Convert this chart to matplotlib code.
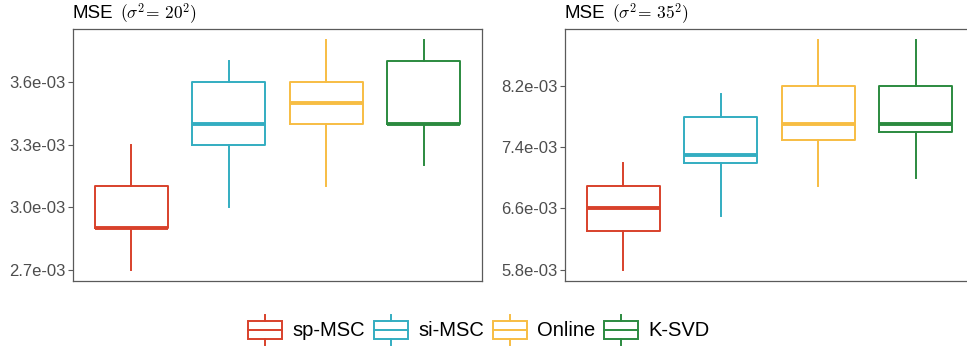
import matplotlib
matplotlib.use("Agg")
import matplotlib.pyplot as plt
from matplotlib.patches import Rectangle
from matplotlib.lines import Line2D
from matplotlib.legend_handler import HandlerBase

plt.rcParams['font.family'] = ['Liberation Sans', 'DejaVu Sans']
plt.rcParams['mathtext.fontset'] = 'cm'

methods = ["sp-MSC", "si-MSC", "Online", "K-SVD"]
colors = ["#D8412B", "#33ADC1", "#F7BD43", "#2B8A3F"]

# panel 1 (sigma^2 = 20^2), values in units of 1e-3
p1_low = [2.7, 3.0, 3.1, 3.2]
p1_q1 = [2.9, 3.3, 3.4, 3.4]
p1_med = [2.9, 3.4, 3.5, 3.4]
p1_q3 = [3.1, 3.6, 3.6, 3.7]
p1_high = [3.3, 3.7, 3.8, 3.8]
p1_ticks = [2.7, 3.0, 3.3, 3.6]

# panel 2 (sigma^2 = 35^2)
p2_low = [5.8, 6.5, 6.9, 7.0]
p2_q1 = [6.3, 7.2, 7.5, 7.6]
p2_med = [6.6, 7.3, 7.7, 7.7]
p2_q3 = [6.9, 7.8, 8.2, 8.2]
p2_high = [7.2, 8.1, 8.8, 8.8]
p2_ticks = [5.8, 6.6, 7.4, 8.2]

title_main = "MSE"
title_math = [r"$(\sigma^2\!=\,20^2)$", r"$(\sigma^2\!=\,35^2)$"]

W, H = 967, 354
fig = plt.figure(figsize=(W / 100, H / 100), dpi=100)

def px_axes(x0, y0, x1, y1):
    return fig.add_axes([x0 / W, (H - y1) / H, (x1 - x0) / W, (y1 - y0) / H])

ax1 = px_axes(73, 29, 482, 281)
ax2 = px_axes(565, 29, 974, 281)

FRAME = "#5a5a5a"
LW = 1.4

def draw(ax, low, q1, med, q3, high, ticks, math):
    stats = []
    for i in range(len(methods)):
        stats.append(dict(whislo=low[i] * 1e-3, q1=q1[i] * 1e-3, med=med[i] * 1e-3,
                          q3=q3[i] * 1e-3, whishi=high[i] * 1e-3, fliers=[], label=methods[i]))
    for i, st in enumerate(stats):
        c = colors[i]
        ax.bxp([st], positions=[i + 1], widths=0.75, showfliers=False, showcaps=False,
               patch_artist=False,
               boxprops=dict(color=c, linewidth=LW),
               whiskerprops=dict(color=c, linewidth=LW),
               medianprops=dict(color=c, linewidth=2.8, solid_capstyle='butt'),
               manage_ticks=False)
    lo = min(low) * 1e-3
    hi = max(high) * 1e-3
    pad = (hi - lo) * 0.05
    ax.set_ylim(lo - pad, hi + pad)
    ax.set_xlim(0.4, 4.6)
    ax.set_xticks([])
    ax.set_yticks([t * 1e-3 for t in ticks])
    ax.set_yticklabels([f"{t:.1f}e-03" for t in ticks])
    ax.tick_params(axis='y', colors=FRAME, labelcolor="#4D4D4D", labelsize=12,
                   length=3.5, width=0.8, pad=2)
    for s in ax.spines.values():
        s.set_color(FRAME)
        s.set_linewidth(0.9)
    yb = 1.0 + 10.5 / 252
    ax.text(0.0, yb, title_main, transform=ax.transAxes, ha='left', va='baseline',
            fontsize=13.5, color='black')
    ax.text(47 / 409, yb, math, transform=ax.transAxes, ha='left', va='baseline',
            fontsize=12.5, color='black')

draw(ax1, p1_low, p1_q1, p1_med, p1_q3, p1_high, p1_ticks, title_math[0])
draw(ax2, p2_low, p2_q1, p2_med, p2_q3, p2_high, p2_ticks, title_math[1])


class BoxHandler(HandlerBase):
    def create_artists(self, legend, orig_handle, xdescent, ydescent, width, height,
                       fontsize, trans):
        c = orig_handle.get_color()
        x0, y0 = -xdescent, -ydescent
        bh = height * 23 / 39
        by = y0 + (height - bh) / 2
        rect = Rectangle((x0, by), width, bh, fill=False, edgecolor=c,
                         linewidth=LW, transform=trans)
        mid = Line2D([x0, x0 + width], [y0 + height / 2] * 2, color=c, lw=LW, transform=trans)
        w1 = Line2D([x0 + width / 2] * 2, [by + bh, y0 + height], color=c, lw=LW, transform=trans)
        w2 = Line2D([x0 + width / 2] * 2, [y0, by], color=c, lw=LW, transform=trans)
        return [rect, mid, w1, w2]

handles = [Line2D([], [], color=c) for c in colors]
fs = 14.5
fig.legend(handles, methods, handler_map={Line2D: BoxHandler()},
           loc='center', bbox_to_anchor=(479 / W, (H - 330) / H), ncol=4,
           frameon=False, fontsize=fs, handlelength=34 / (fs * 100 / 72),
           handleheight=39 / (fs * 100 / 72),
           handletextpad=0.5, columnspacing=0.45, borderpad=0, borderaxespad=0)

fig.savefig("out.png", dpi=100)
